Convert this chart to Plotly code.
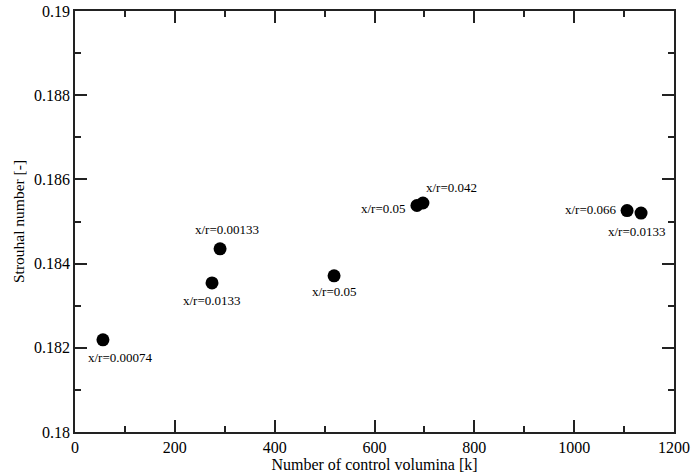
import plotly.graph_objects as go

cells_k = [56, 274.5, 290.6, 519, 685, 697, 1106, 1134]
strouhal = [0.18219, 0.18354, 0.18435, 0.18371, 0.18538, 0.18544, 0.18526, 0.18520]
labels = ["x/r=0.00074", "x/r=0.0133", "x/r=0.00133", "x/r=0.05",
          "x/r=0.05", "x/r=0.042", "x/r=0.066", "x/r=0.0133"]

x_tickvals = [0, 200, 400, 600, 800, 1000, 1200]
x_ticktext = ["0", "200", "400", "600", "800", "1000", "1200"]
y_tickvals = [0.18, 0.182, 0.184, 0.186, 0.188, 0.19]
y_ticktext = ["0.18", "0.182", "0.184", "0.186", "0.188", "0.19"]

# label placement: (xanchor, xshift, yshift)
placement = [("center", 18, -18), ("center", 0, -18), ("center", 7, 19),
             ("center", 0, -16), ("right", -9, -3), ("center", 29, 15),
             ("right", -8, 1), ("center", -4, -18)]

font = "Liberation Serif, Times New Roman, serif"

fig = go.Figure()
fig.add_trace(go.Scatter(x=cells_k, y=strouhal, mode="markers",
                         marker=dict(size=13, color="black"),
                         showlegend=False, hoverinfo="x+y"))

for xv, yv, lab, (xa, xs, ys) in zip(cells_k, strouhal, labels, placement):
    fig.add_annotation(x=xv, y=yv, text=lab, showarrow=False,
                       xanchor=xa, yanchor="middle", xshift=xs, yshift=ys,
                       font=dict(family=font, size=13, color="black"))

axis_common = dict(showgrid=False, zeroline=False, showline=True,
                   linecolor="#222", linewidth=1.5, mirror="ticks",
                   ticks="inside", ticklen=12, tickwidth=1.5, tickcolor="#222",
                   automargin=False,
                   tickfont=dict(family=font, size=16, color="black"))

fig.update_xaxes(range=[0, 1200], tickvals=x_tickvals, ticktext=x_ticktext,
                 minor=dict(ticks="inside", ticklen=6, tickwidth=1.5,
                            tickcolor="#222", dtick=100, showgrid=False),
                 title=dict(text="Number of control volumina [k]", standoff=0,
                            font=dict(family=font, size=16, color="black")),
                 **axis_common)
fig.update_yaxes(range=[0.18, 0.19], tickvals=y_tickvals, ticktext=y_ticktext,
                 minor=dict(ticks="inside", ticklen=6, tickwidth=1.5,
                            tickcolor="#222", dtick=0.001, showgrid=False),
                 title=dict(text="Strouhal number [-]", standoff=6,
                            font=dict(family=font, size=15.5, color="black")),
                 **axis_common)

fig.update_layout(width=691, height=476,
                  font=dict(family=font),
                  margin=dict(l=75, r=17, t=11, b=44),
                  paper_bgcolor="white", plot_bgcolor="white")

# remove the default 8px page margin so the figure fills the window exactly
fig.write_html("out.html",
               config={"displayModeBar": False},
               post_script="document.body.style.margin='0';"
                           "document.body.style.overflow='hidden';")
